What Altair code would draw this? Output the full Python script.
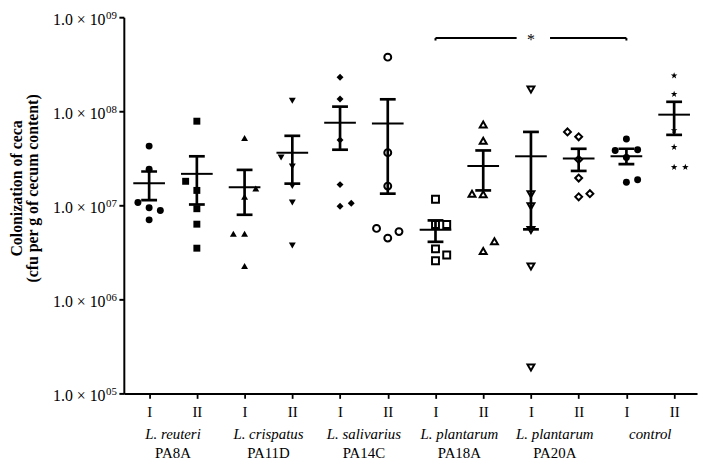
import altair as alt
import pandas as pd

# ---------------- data ----------------
group_index = list(range(1, 13))
treatment = ["I", "II"] * 6
strain_name = ["L. reuteri", "L. crispatus", "L. salivarius", "L. plantarum", "L. plantarum", "control"]
strain_code = ["PA8A", "PA11D", "PA14C", "PA18A", "PA20A", ""]
y_title_lines = ["Colonization of ceca", "(cfu per g of cecum content)"]

# individual animals (cfu per g cecum content), per group
v01 = [4.26e7, 2.42e7, 1.07e7, 9.4e6, 8.8e6, 7.0e6]
v02 = [7.84e7, 1.80e7, 1.44e7, 9.2e6, 6.3e6, 3.5e6]
v03 = [5.19e7, 1.51e7, 1.23e7, 4.97e6, 4.97e6, 2.26e6]
v04 = [1.29e8, 3.22e7, 2.58e7, 1.60e7, 1.07e7, 3.73e6]
v05 = [2.30e8, 1.35e8, 4.94e7, 1.66e7, 9.77e6, 1.05e7]
v06 = [3.76e8, 3.63e7, 1.60e7, 5.68e6, 4.48e6, 5.25e6]
v07 = [1.16e7, 6.25e6, 6.25e6, 3.44e6, 2.96e6, 2.57e6]
v08 = [7.24e7, 4.86e7, 1.33e7, 1.31e7, 3.26e6, 4.14e6]
v09 = [1.70e8, 1.31e7, 9.77e6, 5.47e6, 2.24e6, 1.89e5]
v10 = [6.03e7, 5.35e7, 3.07e7, 1.95e7, 1.23e7, 1.33e7]
v11 = [5.07e7, 3.83e7, 3.89e7, 3.22e7, 1.76e7, 1.87e7]
v12 = [2.39e8, 1.52e8, 6.28e7, 4.16e7, 2.54e7, 2.54e7]
group_values = [v01, v02, v03, v04, v05, v06, v07, v08, v09, v10, v11, v12]

# side-by-side slot of each point inside its column (-1 left, 0 centre, 1 right)
s01 = [0, 0, -1, 0, 1, 0]
s02 = [0, -1, 0, 0, 0, 0]
s03 = [0, 1, 0, -1, 0, 0]
s04 = [0, -1, 0, 0, 0, 0]
s05 = [0, 0, 0, 0, 0, 1]
s06 = [0, 0, 0, -1, 0, 1]
s07 = [0, 0, 1, 0, 1, 0]
s08 = [0, 0, -1, 0, 0, 1]
s09 = [0, 0, 0, 0, 0, 0]
s10 = [-1, 0, 0, 0, 0, 1]
s11 = [0, -1, 1, 0, 0, 1]
s12 = [0, 0, 0, 0, 0, 1]
group_slots = [s01, s02, s03, s04, s05, s06, s07, s08, s09, s10, s11, s12]

# mean and mean +/- SEM per group
means = [1.72e7, 2.16e7, 1.56e7, 3.63e7, 7.55e7, 7.42e7, 5.5e6, 2.62e7, 3.32e7, 3.14e7, 3.32e7, 9.2e7]
sem_upper = [2.29e7, 3.32e7, 2.38e7, 5.48e7, 1.12e8, 1.34e8, 6.91e6, 3.83e7, 6.03e7, 3.99e7, 3.99e7, 1.26e8]
sem_lower = [1.135e7, 1.02e7, 7.93e6, 1.70e7, 3.90e7, 1.33e7, 4.09e6, 1.44e7, 5.55e6, 2.32e7, 2.74e7, 5.61e7]

# significance bracket
sig_from, sig_to, sig_mark_at = 7, 11, 9
sig_level = 6.0e8
sig_label = "*"

y_ticks = [1e5, 1e6, 1e7, 1e8, 1e9]
y_exponents = ["05", "06", "07", "08", "09"]

# ---------------- styles ----------------
STAR = "M0,-1L0.235,-0.324L0.951,-0.309L0.38,0.124L0.588,0.809L0,0.4L-0.588,0.809L-0.38,0.124L-0.951,-0.309L-0.235,-0.324Z"
marker_shape = ["circle", "square", "triangle-up", "triangle-down", "diamond",
                "circle", "square", "triangle-up", "triangle-down", "diamond",
                "circle", STAR]
marker_filled = [True, True, True, True, True, False, False, False, False, False, True, True]
marker_size = [49, 49, 52, 48, 70, 50, 45, 64, 64, 64, 58, 32]
FONT = "Liberation Serif"

# ---------------- tables ----------------
rows = []
for g, vals, slots in zip(group_index, group_values, group_slots):
    for v, s in zip(vals, slots):
        rows.append({"grp": g, "value": v, "slot": s, "filled": marker_filled[g - 1]})
points = pd.DataFrame(rows)

summary = pd.DataFrame({"x": group_index, "value": means, "lower": sem_lower, "upper": sem_upper})

labels = pd.DataFrame({
    "x": [(group_index[2 * i] + group_index[2 * i + 1]) / 2 for i in range(6)],
    "name": strain_name,
    "code": strain_code,
})

bracket = pd.DataFrame({
    "x": [sig_from, sig_mark_at + 0.4],
    "x2": [sig_mark_at - 0.3, sig_to],
    "value": [sig_level, sig_level],
})
bracket_ends = pd.DataFrame({"x": [sig_from, sig_to], "value": [sig_level, sig_level], "low": [5.65e8, 5.65e8]})
sig_df = pd.DataFrame({"x": [sig_mark_at], "value": [sig_level], "t": [sig_label]})
exp_df = pd.DataFrame({"value": y_ticks, "e": y_exponents})
title_df1 = pd.DataFrame({"t": [y_title_lines[0]]})
title_df2 = pd.DataFrame({"t": [y_title_lines[1]]})

# ---------------- scales / axes ----------------
xscale = alt.Scale(domain=[0.47, 12.48], nice=False, zero=False)
yscale = alt.Scale(type="log", domain=[1e5, 1e9], nice=False)

xaxis = alt.Axis(values=group_index, labelExpr="datum.value % 2 == 1 ? 'I' : 'II'",
                 title=None, grid=False, domainColor="black", domainWidth=2,
                 tickColor="black", tickWidth=1.8, tickSize=5,
                 labelFont=FONT, labelFontSize=15, labelColor="black",
                 labelBaseline="alphabetic", labelPadding=18)

yaxis = alt.Axis(values=y_ticks, labelExpr="'1.0 × 10'", grid=False, title=None,
                 domainColor="black", domainWidth=2, tickColor="black", tickWidth=2, tickSize=5,
                 labelFont=FONT, labelFontSize=16, labelColor="black",
                 labelAlign="right", labelBaseline="middle", labelPadding=14, labelOffset=2)


def X(field="x"):
    return alt.X(f"{field}:Q", scale=xscale, axis=xaxis)


def Y(field="value"):
    return alt.Y(f"{field}:Q", scale=yscale, axis=yaxis)


shape_enc = alt.Shape("grp:O", scale=alt.Scale(domain=group_index, range=marker_shape), legend=None)
size_enc = alt.Size("grp:O", scale=alt.Scale(domain=group_index, range=marker_size), legend=None)

base_points = alt.Chart(points).transform_calculate(x="datum.grp + datum.slot * 0.235")

filled_pts = base_points.transform_filter("datum.filled").mark_point(
    filled=True, color="black", opacity=1, strokeWidth=0
).encode(x=X(), y=Y(), shape=shape_enc, size=size_enc)

open_pts = base_points.transform_filter("!datum.filled").mark_point(
    filled=False, color="black", opacity=1, strokeWidth=2
).encode(x=X(), y=Y(), shape=shape_enc, size=size_enc)

err_rule = alt.Chart(summary).mark_rule(color="black", strokeWidth=2.7).encode(
    x=X(), y=Y("lower"), y2="upper:Q")
cap_hi = alt.Chart(summary).mark_tick(orient="horizontal", color="black", size=16, thickness=2.7, opacity=1).encode(
    x=X(), y=Y("upper"))
cap_lo = alt.Chart(summary).mark_tick(orient="horizontal", color="black", size=16, thickness=2.7, opacity=1).encode(
    x=X(), y=Y("lower"))
mean_tick = alt.Chart(summary).mark_tick(orient="horizontal", color="black", size=32, thickness=2, opacity=1).encode(
    x=X(), y=Y("value"))

br = alt.Chart(bracket).mark_rule(color="black", strokeWidth=2).encode(x=X(), x2="x2:Q", y=Y())
br_ends = alt.Chart(bracket_ends).mark_rule(color="black", strokeWidth=2).encode(x=X(), y=Y("low"), y2="value:Q")
sig_txt = alt.Chart(sig_df).mark_text(font=FONT, fontSize=16, color="black", fill="black",
                                      baseline="alphabetic", dy=7).encode(
    x=X(), y=Y(), text="t:N")

exp_txt = alt.Chart(exp_df).mark_text(font=FONT, fontSize=11, color="black", align="right",
                                      baseline="middle", dy=-1).encode(
    x=alt.value(-7), y=Y(), text="e:N")

title1 = alt.Chart(title_df1).mark_text(font=FONT, fontSize=16, fontWeight="bold", color="black",
                                        angle=270, align="center", baseline="middle").encode(
    x=alt.value(-108), y=alt.value(173), text="t:N")
title2 = alt.Chart(title_df2).mark_text(font=FONT, fontSize=16, fontWeight="bold", color="black",
                                        angle=270, align="center", baseline="middle").encode(
    x=alt.value(-92), y=alt.value(173), text="t:N")

name_txt = alt.Chart(labels).mark_text(font=FONT, fontSize=15, fontStyle="italic", color="black",
                                       baseline="alphabetic").encode(
    x=X(), y=alt.value(426), text="name:N")
code_txt = alt.Chart(labels).mark_text(font=FONT, fontSize=15, color="black", baseline="alphabetic").encode(
    x=X(), y=alt.value(445), text="code:N")

chart = alt.layer(
    filled_pts, open_pts, err_rule, cap_hi, cap_lo, mean_tick,
    br, br_ends, sig_txt, exp_txt, title1, title2, name_txt, code_txt
).properties(
    width=579, height=380,
    autosize=alt.AutoSizeParams(type="none"),
    padding={"left": 117, "top": 7, "right": 4, "bottom": 68},
    background="white",
).configure_view(stroke=None).configure_axis(grid=False)

chart.save("out.html", embed_options={"renderer": "svg", "actions": False})
